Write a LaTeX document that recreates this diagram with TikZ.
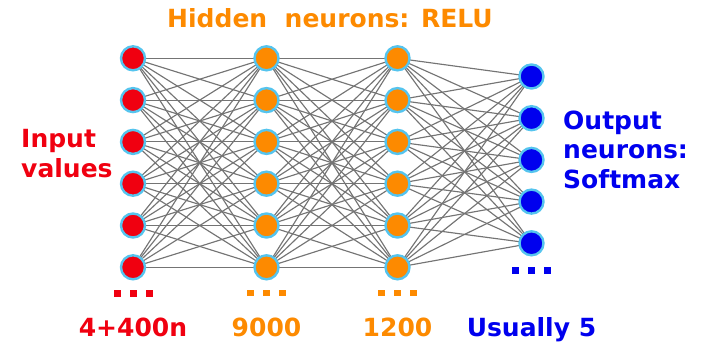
\documentclass[tikz,border=0pt]{standalone}
\usepackage{fontspec}
\usetikzlibrary{backgrounds}
\setmainfont{DejaVu Sans}
\definecolor{inred}{HTML}{F00010}
\definecolor{hidorange}{HTML}{FD8A00}
\definecolor{outblue}{HTML}{0000EE}
\definecolor{rim}{HTML}{55C4EE}
\definecolor{wire}{HTML}{747474}
\tikzset{
  neuron/.style={circle, minimum size=24pt, inner sep=0pt, line width=2.4pt, draw=rim},
  wirestyle/.style={draw=wire, line width=1.15pt},
  label text/.style={font=\fontsize{25}{29.5}\selectfont\bfseries, inner sep=0pt},
  dotsq/.style={minimum size=7pt, inner sep=0pt, rectangle}
}
\begin{document}
\begin{tikzpicture}[x=1pt,y=-1pt]
\useasboundingbox (0,0) rectangle (706,342);
% layer positions
\def\xin{133}
\def\xha{266.5}
\def\xhb{397.5}
\def\xout{531.5}
% neurons
\foreach \i in {1,...,6} {
  \node[neuron, fill=inred] (a\i) at (\xin, {58.3+(\i-1)*41.8}) {};
  \node[neuron, fill=hidorange] (b\i) at (\xha, {58.3+(\i-1)*41.8}) {};
  \node[neuron, fill=hidorange] (c\i) at (\xhb, {58.3+(\i-1)*41.8}) {};
}
\foreach \i in {1,...,5} {
  \node[neuron, fill=outblue] (d\i) at (\xout, {76.5+(\i-1)*41.7}) {};
}
% fully connected wiring between consecutive layers, kept behind the neurons
\begin{scope}[on background layer]
\foreach \i in {1,...,6} {
  \foreach \j in {1,...,6} {
    \path[wirestyle] (a\i.center) -- (b\j.center);
    \path[wirestyle] (b\i.center) -- (c\j.center);
  }
  \foreach \j in {1,...,5} {
    \path[wirestyle] (c\i.center) -- (d\j.center);
  }
}
\end{scope}
% ellipsis squares
\foreach \dx [count=\k] in {-16,0,16} {
  \node[dotsq, fill=inred] (ea\k) at (\xin+\dx, 293) {};
  \node[dotsq, fill=hidorange, minimum size=6.5pt] (eb\k) at (\xha+\dx, 293) {};
  \node[dotsq, fill=hidorange, minimum size=6.5pt] (ec\k) at (\xhb+\dx, 293) {};
  \node[dotsq, fill=outblue] (ed\k) at (\xout+\dx, 270) {};
}
% labels
\node[label text, text=hidorange, anchor=base west] (hid) at (167,28) {Hidden\hspace{0.35em} neurons: RELU};
\node[label text, text=inred, anchor=base west, align=left] (inp) at (21,177) {Input\\values};
\node[label text, text=outblue, anchor=base west, align=left] (outp) at (563,188) {Output\\neurons:\\Softmax};
\node[label text, text=inred, anchor=base] (na) at (\xin,336) {4+400n};
\node[label text, text=hidorange, anchor=base] (nb) at (\xha,336) {9000};
\node[label text, text=hidorange, anchor=base] (nc) at (\xhb,336) {1200};
\node[label text, text=outblue, anchor=base] (nd) at (\xout,336) {Usually 5};
\end{tikzpicture}
\end{document}
